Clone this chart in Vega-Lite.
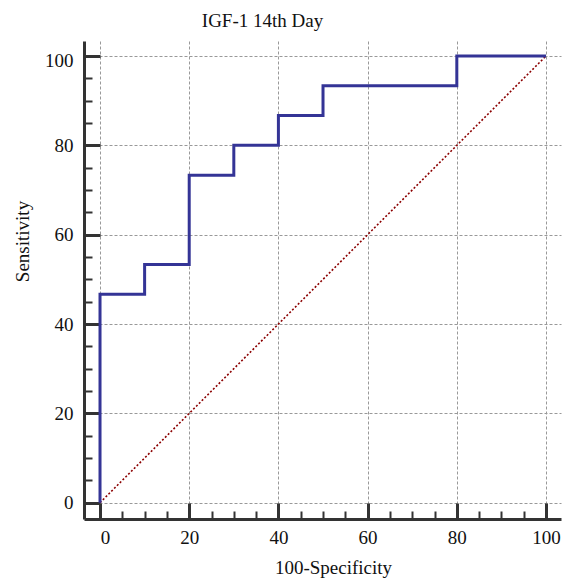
{
  "$schema": "https://vega.github.io/schema/vega-lite/v6.json",
  "autosize": "none",
  "width": 477,
  "height": 478,
  "padding": {"left": 84, "top": 41, "right": 8, "bottom": 62},
  "background": "white",
  "config": {
    "view": {"stroke": null},
    "font": "Liberation Serif"
  },
  "title": {
    "text": "IGF-1 14th Day",
    "font": "Liberation Serif",
    "fontSize": 19,
    "fontWeight": "normal",
    "color": "#111",
    "anchor": "middle",
    "dx": -60,
    "dy": 23,
    "baseline": "alphabetic",
    "offset": 18
  },
  "datasets": {
    "roc": [
      {"i": 0, "fpr": 0, "sens": 0},
      {"i": 1, "fpr": 0, "sens": 46.67},
      {"i": 2, "fpr": 10, "sens": 53.33},
      {"i": 3, "fpr": 20, "sens": 73.33},
      {"i": 4, "fpr": 30, "sens": 80},
      {"i": 5, "fpr": 40, "sens": 86.67},
      {"i": 6, "fpr": 50, "sens": 93.33},
      {"i": 7, "fpr": 80, "sens": 100},
      {"i": 8, "fpr": 100, "sens": 100}
    ],
    "diag": [
      {"i": 0, "fpr": 0, "sens": 0},
      {"i": 1, "fpr": 100, "sens": 100}
    ]
  },
  "encoding": {
    "x": {
      "field": "fpr",
      "type": "quantitative",
      "scale": {"domain": [-3.59, 103.36], "nice": false, "zero": false},
      "axis": {
        "title": "100-Specificity",
        "values": [0,5,10,15,20,25,30,35,40,45,50,55,60,65,70,75,80,85,90,95,100],
        "labelExpr": "datum.value % 20 === 0 ? datum.label : ''",
        "labelFont": "Liberation Serif",
        "labelFontSize": 19,
        "labelColor": "#111",
        "labelPadding": 25,
        "labelOffset": {"condition": {"test": "datum.value === 0", "value": 5}, "value": 0},
        "labelFlush": false,
        "labelOverlap": false,
        "tickSize": {"condition": {"test": "datum.value % 20 === 0", "value": -16}, "value": -8},
        "tickWidth": {"condition": {"test": "datum.value % 20 === 0", "value": 3}, "value": 2},
        "tickColor": "#333",
        "domainColor": "#333",
        "domainWidth": 3,
        "grid": true,
        "gridColor": "#999",
        "gridDash": [3, 2],
        "gridWidth": 1,
        "gridOpacity": {"condition": {"test": "datum.value % 20 === 0", "value": 1}, "value": 0},
        "titleFont": "Liberation Serif",
        "titleFontSize": 19,
        "titleFontWeight": "normal",
        "titleColor": "#111",
        "titleX": 249,
        "titleY": 54,
        "titleBaseline": "alphabetic",
        "titleAnchor": null
      }
    },
    "y": {
      "field": "sens",
      "type": "quantitative",
      "scale": {"domain": [-3.65, 103.36], "nice": false, "zero": false},
      "axis": {
        "title": "Sensitivity",
        "values": [0,5,10,15,20,25,30,35,40,45,50,55,60,65,70,75,80,85,90,95,100],
        "labelExpr": "datum.value % 20 === 0 ? datum.label : ''",
        "labelFont": "Liberation Serif",
        "labelFontSize": 19,
        "labelColor": "#111",
        "labelPadding": 27,
        "labelOffset": {"condition": {"test": "datum.value === 100", "value": 4}, "value": 0},
        "labelFlush": false,
        "labelOverlap": false,
        "tickSize": {"condition": {"test": "datum.value % 20 === 0", "value": -16}, "value": -8},
        "tickWidth": {"condition": {"test": "datum.value % 20 === 0", "value": 3}, "value": 2},
        "tickColor": "#333",
        "domainColor": "#333",
        "domainWidth": 3,
        "grid": true,
        "gridColor": "#999",
        "gridDash": [3, 2],
        "gridWidth": 1,
        "gridOpacity": {"condition": {"test": "datum.value % 20 === 0", "value": 1}, "value": 0},
        "titleFont": "Liberation Serif",
        "titleFontSize": 19,
        "titleFontWeight": "normal",
        "titleColor": "#111",
        "titleAngle": -90,
        "titleX": -56,
        "titleY": 200,
        "titleBaseline": "alphabetic",
        "titleAnchor": null
      }
    },
    "order": {"field": "i", "type": "quantitative"}
  },
  "layer": [
    {
      "data": {"name": "diag"},
      "mark": {"type": "line", "color": "#8b0000", "strokeWidth": 1.6, "strokeDash": [2, 2]}
    },
    {
      "data": {"name": "roc"},
      "mark": {"type": "line", "color": "#343496", "strokeWidth": 3, "interpolate": "step-after"}
    }
  ]
}
